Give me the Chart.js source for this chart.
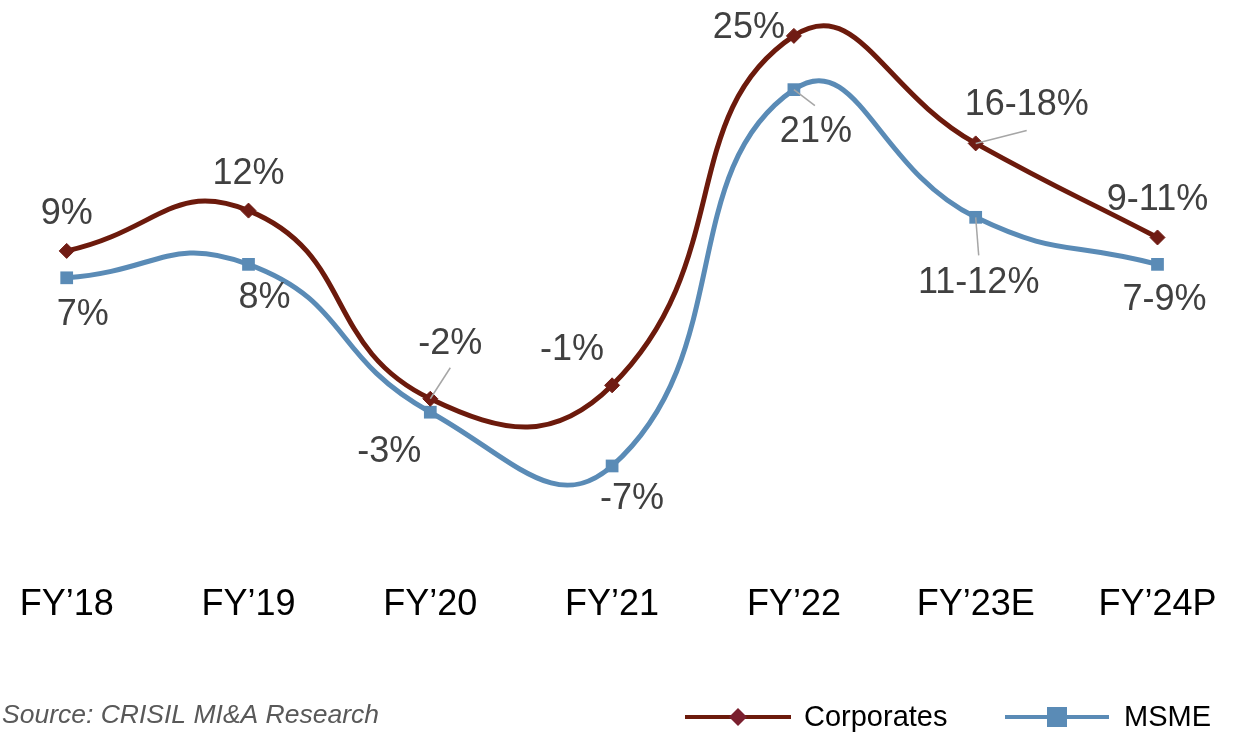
<!DOCTYPE html>
<html lang="en">
<head>
  <meta charset="UTF-8" />
  <title>Credit growth: Corporates vs MSME</title>
  <script src="https://cdn.jsdelivr.net/npm/chart.js"></script>
  <style>
    body {
      margin: 0;
      background: #ffffff;
    }
    #wrap {
      width: 1243px;
      height: 733px;
    }
  </style>
</head>
<body>
  <div id="wrap">
    <canvas id="grafico" width="1243" height="733"></canvas>
  </div>

  <script>
    // Data
    const categories = ["FY\u201918", "FY\u201919", "FY\u201920", "FY\u201921", "FY\u201922", "FY\u201923E", "FY\u201924P"];
    const corporates = [9, 12, -2, -1, 25, 17, 10];
    const msme = [7, 8, -3, -7, 21, 11.5, 8];
    const corporatesText = ["9%", "12%", "-2%", "-1%", "25%", "16-18%", "9-11%"];
    const msmeText = ["7%", "8%", "-3%", "-7%", "21%", "11-12%", "7-9%"];

    // Label placement around each point (pixels) and optional leader lines
    const corpOffsets = [[0, -37], [0, -37], [20, -55], [-40, -35], [-45, -8], [51, -38], [0, -37]];
    const msmeOffsets = [[16, 37], [16, 34], [-41, 40], [20, 33], [22, 42], [3, 66], [7, 36]];
    const corpLeaders = [null, null, [20, -31], null, null, [51, -13], null];
    const msmeLeaders = [null, null, null, null, [21, 16], [3, 38], null];

    const corpColor = "#6C1A0C";
    const corpMarker = "#701C14";
    const msmeColor = "#5A8BB6";
    const labelColor = "#404040";
    const FONT = "'Liberation Sans', Arial, sans-serif";

    const valueLabels = {
      id: "valueLabels",
      afterDatasetsDraw(chart) {
        const ctx = chart.ctx;
        const sets = [
          { meta: chart.getDatasetMeta(0), text: corporatesText, off: corpOffsets, lead: corpLeaders },
          { meta: chart.getDatasetMeta(1), text: msmeText, off: msmeOffsets, lead: msmeLeaders }
        ];
        ctx.save();
        sets.forEach(s => {
          s.meta.data.forEach((pt, i) => {
            if (s.lead[i]) {
              ctx.strokeStyle = "#A6A6A6";
              ctx.lineWidth = 1.5;
              ctx.beginPath();
              ctx.moveTo(pt.x + s.lead[i][0], pt.y + s.lead[i][1]);
              ctx.lineTo(pt.x, pt.y);
              ctx.stroke();
            }
            ctx.fillStyle = labelColor;
            ctx.font = "36px " + FONT;
            ctx.textAlign = "center";
            ctx.textBaseline = "middle";
            ctx.fillText(s.text[i], pt.x + s.off[i][0], pt.y + s.off[i][1]);
          });
        });
        ctx.restore();
      },
      afterDraw(chart) {
        const ctx = chart.ctx;
        ctx.save();
        // source note
        ctx.fillStyle = "#595959";
        ctx.font = "italic 26.5px " + FONT;
        ctx.textAlign = "left";
        ctx.textBaseline = "middle";
        ctx.fillText("Source: CRISIL MI&A Research", 2, 716);

        // legend
        const ly = 717;
        ctx.lineWidth = 4;
        ctx.strokeStyle = corpColor;
        ctx.beginPath(); ctx.moveTo(685, ly); ctx.lineTo(791, ly); ctx.stroke();
        ctx.fillStyle = "#7A1F2E";
        ctx.beginPath();
        ctx.moveTo(738, ly - 9); ctx.lineTo(747, ly); ctx.lineTo(738, ly + 9); ctx.lineTo(729, ly);
        ctx.closePath(); ctx.fill();

        ctx.strokeStyle = msmeColor;
        ctx.beginPath(); ctx.moveTo(1005, ly); ctx.lineTo(1109, ly); ctx.stroke();
        ctx.fillStyle = msmeColor;
        ctx.fillRect(1047, ly - 10, 20, 20);

        ctx.fillStyle = "#000000";
        ctx.font = "29px " + FONT;
        ctx.fillText("Corporates", 804, ly + 1);
        ctx.fillText("MSME", 1124, ly + 1);
        ctx.restore();
      }
    };

    const chart = new Chart(document.getElementById("grafico"), {
      type: "line",
      data: {
        labels: categories,
        datasets: [
          {
            label: "Corporates",
            data: corporates,
            borderColor: corpColor,
            borderWidth: 5,
            pointStyle: "rectRot",
            pointRadius: 7.5,
            pointBackgroundColor: corpMarker,
            pointBorderColor: corpMarker,
            pointBorderWidth: 1,
            tension: 0.5,
            clip: false
          },
          {
            label: "MSME",
            data: msme,
            borderColor: msmeColor,
            borderWidth: 5,
            pointStyle: "rect",
            pointRadius: 9,
            pointBackgroundColor: msmeColor,
            pointBorderColor: msmeColor,
            pointBorderWidth: 0,
            tension: 0.5,
            clip: false
          }
        ]
      },
      options: {
        responsive: false,
        devicePixelRatio: 1,
        animation: false,
        elements: { line: { capBezierPoints: false } },
        layout: { padding: { top: 5.2, left: 66.7, right: 85.5, bottom: 103.6 } },
        plugins: {
          legend: { display: false },
          tooltip: { enabled: false }
        },
        scales: {
          x: {
            offset: false,
            grid: { display: false, drawTicks: false },
            border: { display: false },
            ticks: {
              color: "#000000",
              padding: 3,
              maxRotation: 0,
              autoSkip: false,
              font: { family: FONT, size: 36 }
            }
          },
          y: {
            display: false,
            min: -15.5,
            max: 27
          }
        }
      },
      plugins: [valueLabels]
    });
  </script>
</body>
</html>
